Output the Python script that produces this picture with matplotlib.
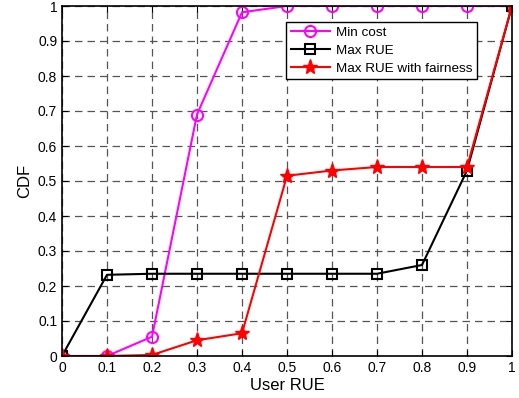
import matplotlib
matplotlib.use("Agg")
import matplotlib.pyplot as plt

x = [0, 0.1, 0.2, 0.3, 0.4, 0.5, 0.6, 0.7, 0.8, 0.9, 1.0]
min_cost = [0, 0, 0.055, 0.69, 0.982, 1, 1, 1, 1, 1, 1]
max_rue = [0, 0.232, 0.235, 0.235, 0.235, 0.235, 0.235, 0.235, 0.26, 0.53, 1]
max_rue_fair = [0, 0, 0.003, 0.045, 0.065, 0.515, 0.53, 0.54, 0.54, 0.54, 1]
xticks = [0, 0.1, 0.2, 0.3, 0.4, 0.5, 0.6, 0.7, 0.8, 0.9, 1]
yticks = [0, 0.1, 0.2, 0.3, 0.4, 0.5, 0.6, 0.7, 0.8, 0.9, 1]

plt.rcParams['font.family'] = ['Liberation Sans', 'DejaVu Sans']
fig = plt.figure(figsize=(5.19, 3.98), dpi=100)
ax = fig.add_axes([62/519, 1-356/398, 450/519, 350/398])

ax.grid(True, color='#555555', linestyle=(0, (6, 4)), lw=0.9)
ax.set_axisbelow(True)
ax.plot(x, min_cost, color='#ff00ff', marker='o', markersize=8, markerfacecolor='none',
        markeredgewidth=1.5, lw=1.5, label='Min cost')
ax.plot(x, max_rue, color='black', marker='s', markersize=7, markerfacecolor='none',
        markeredgewidth=1.5, lw=1.5, label='Max RUE')
ax.plot(x, max_rue_fair, color='red', marker='*', markersize=11, markerfacecolor='red',
        markeredgewidth=1.0, lw=1.5, label='Max RUE with fairness')

ax.set_xlim(0, 1)
ax.set_ylim(0, 1)
ax.set_xticks(xticks)
ax.set_xticklabels([f"{t:g}" for t in xticks])
ax.set_yticks(yticks)
ax.set_yticklabels([f"{t:g}" for t in yticks])
ax.tick_params(direction='in', labelsize=10, length=4, top=True, right=True)
for s in ax.spines.values():
    s.set_linewidth(1.2)
ax.set_xlabel('User RUE', fontsize=12, labelpad=2)
ax.set_ylabel('CDF', fontsize=12)
leg = ax.legend(loc='upper left', bbox_to_anchor=(0.498, 0.955), borderaxespad=0,
                fontsize=9.7, fancybox=False, framealpha=1, edgecolor='black',
                borderpad=0.35, handlelength=2.9, handletextpad=0.45, labelspacing=0.4)
leg.get_frame().set_linewidth(1.0)

fig.savefig('out.png', dpi=100)
